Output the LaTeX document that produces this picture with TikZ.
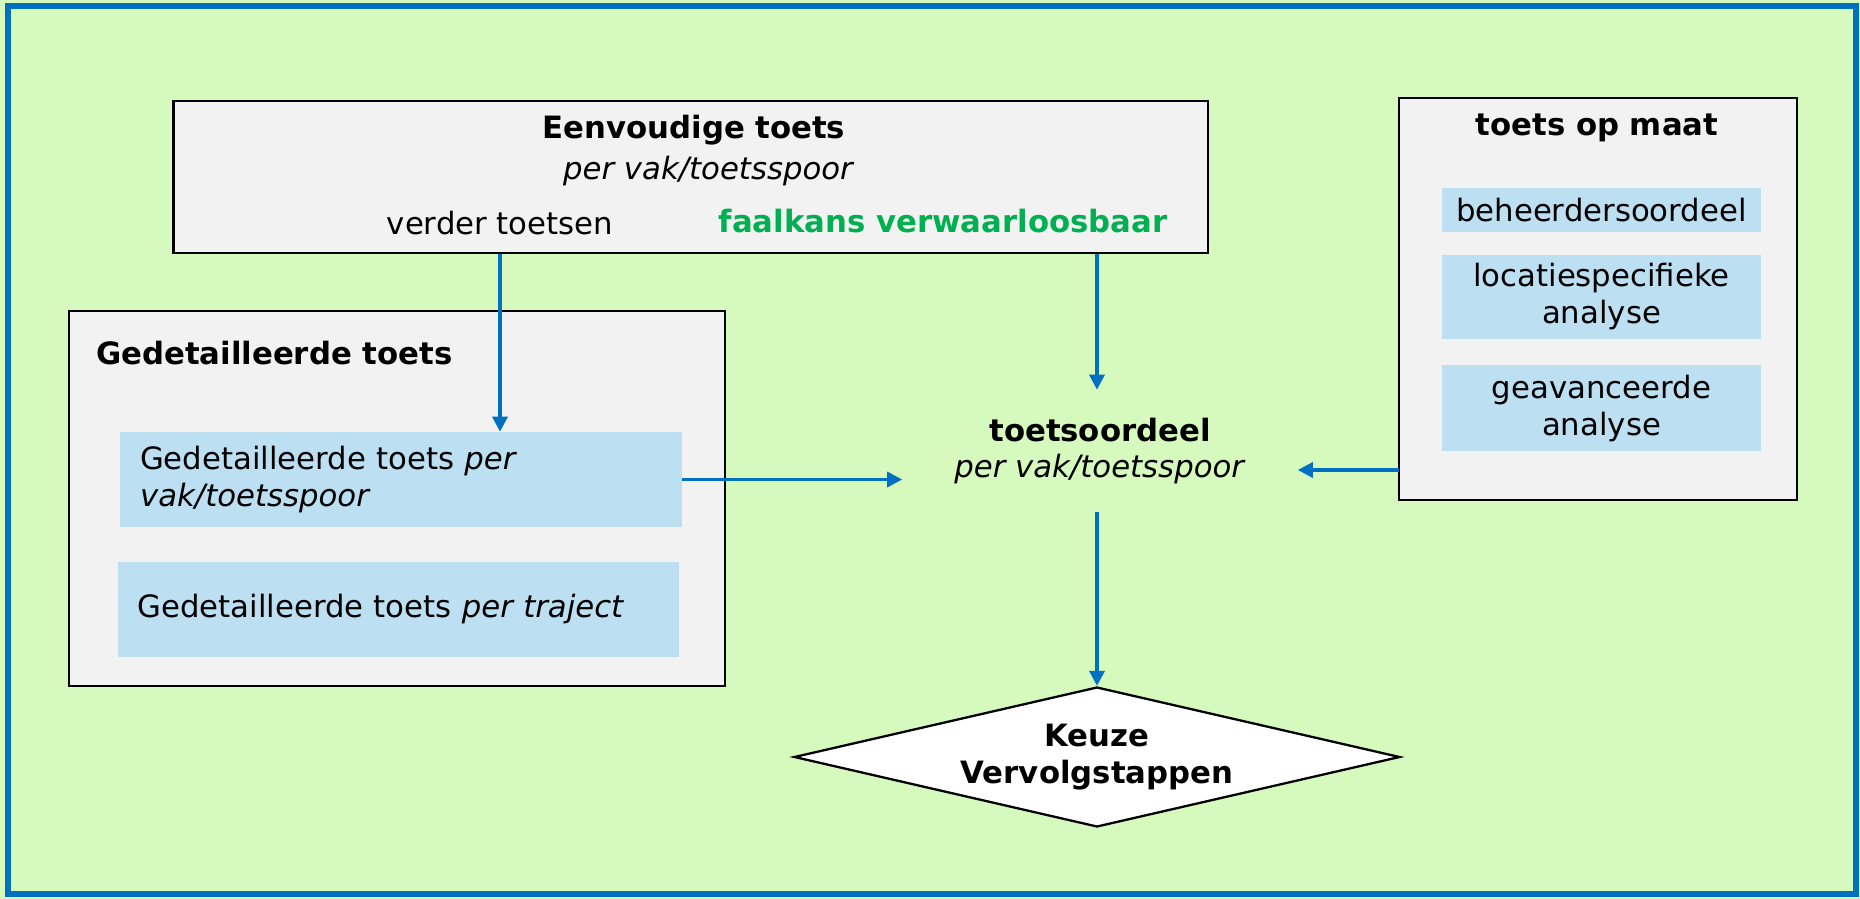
\documentclass[tikz,border=0pt]{standalone}
\usepackage{fontspec}
\setmainfont{DejaVu Sans}
\usepackage{xcolor}
\usetikzlibrary{positioning,arrows.meta,shapes.geometric,calc}

\definecolor{bggreen}{RGB}{214,249,190}
\definecolor{frameblue}{RGB}{0,112,192}
\definecolor{boxgray}{RGB}{242,242,242}
\definecolor{subblue}{RGB}{189,223,242}
\definecolor{okgreen}{RGB}{0,176,80}
\newcommand{\mainsize}{\fontsize{17.5}{21}\selectfont}

\begin{document}
\begin{tikzpicture}[
    x=0.02cm, y=-0.02cm,
    font=\mainsize,
    box/.style={draw=black, line width=1.6pt, fill=boxgray, inner sep=0pt},
    sub/.style={fill=subblue, inner sep=0pt, align=center},
    title/.style={font=\mainsize\bfseries},
    choice/.style={diamond, draw=black, line width=1.3pt, fill=white, aspect=4.33,
                   inner sep=0pt, minimum width=12.12cm, minimum height=2.8cm,
                   align=center, font=\mainsize\bfseries},
    arrow/.style={-{Triangle[length=0.3cm, width=0.3cm]}, line width=1.9pt, draw=frameblue},
  ]

  % Background and frame
  \useasboundingbox (0,0) rectangle (1860,899);
  \fill[bggreen] (0,0) rectangle (1860,899);
  \draw[frameblue, line width=0.11cm] (8,6) rectangle (1856,894);

  % Eenvoudige toets
  \node[box, minimum width=20.7cm, minimum height=3.04cm] (eenv) at (690.5,177) {};
  \node[title] (eenvtitle) at (694,130) {Eenvoudige toets};
  \node (eenvsub) at (708,171) {\itshape per vak/toetsspoor};
  \node (verder) at (500,223) {verder toetsen};
  \node[title, text=okgreen] (faal) at (943,221) {faalkans verwaarloosbaar};

  % Gedetailleerde toets
  \node[box, minimum width=13.12cm, minimum height=7.5cm] (gedet) at (397,498.5) {};
  \node[title, anchor=west] (gedettitle) at (90,353) {Gedetailleerde toets};
  \node[sub, minimum width=11.24cm, minimum height=1.9cm, text width=10.44cm, align=left]
    (gvak) at (401,479.5) {Gedetailleerde toets \textit{per}\\\textit{vak/toetsspoor}};
  \node[sub, minimum width=11.24cm, minimum height=1.9cm, text width=10.44cm, align=left]
    (gtraj) at (398.5,609.5) {Gedetailleerde toets \textit{per traject}};

  % Toets op maat
  \node[box, minimum width=7.96cm, minimum height=8.04cm] (maat) at (1598,299) {};
  \node[title] (maattitle) at (1597,128) {toets op maat};
  \node[sub, minimum width=6.38cm, minimum height=0.88cm] (beheer) at (1601.5,210) {beheerdersoordeel};
  \node[sub, minimum width=6.38cm, minimum height=1.68cm, below=0.44cm of beheer] (locatie) {locatiespecifieke\\analyse};
  \node[sub, minimum width=6.38cm, minimum height=1.72cm, below=0.52cm of locatie] (geav) {geavanceerde\\analyse};
  \coordinate (maatout) at (1399,470);

  % Toetsoordeel
  \node[align=center, inner sep=0pt, minimum width=7.9cm, minimum height=2.44cm] (toord) at (1100,451)
    {\textbf{toetsoordeel}\\\textit{per vak/toetsspoor}};

  % Keuze
  \node[choice] (keuze) at (1097,757) {Keuze\\Vervolgstappen};

  % Arrows
  \draw[arrow] (eenv.south -| verder) -- (gvak.north -| verder);
  \draw[arrow] (eenv.south -| keuze.north) -- (toord.north -| keuze.north);
  \draw[arrow] (gvak.east) -- (gvak.east -| toord.west);
  \draw[arrow] (maatout) -- (maatout -| toord.east);
  \draw[arrow] (toord.south -| keuze.north) -- (keuze.north);

\end{tikzpicture}
\end{document}
